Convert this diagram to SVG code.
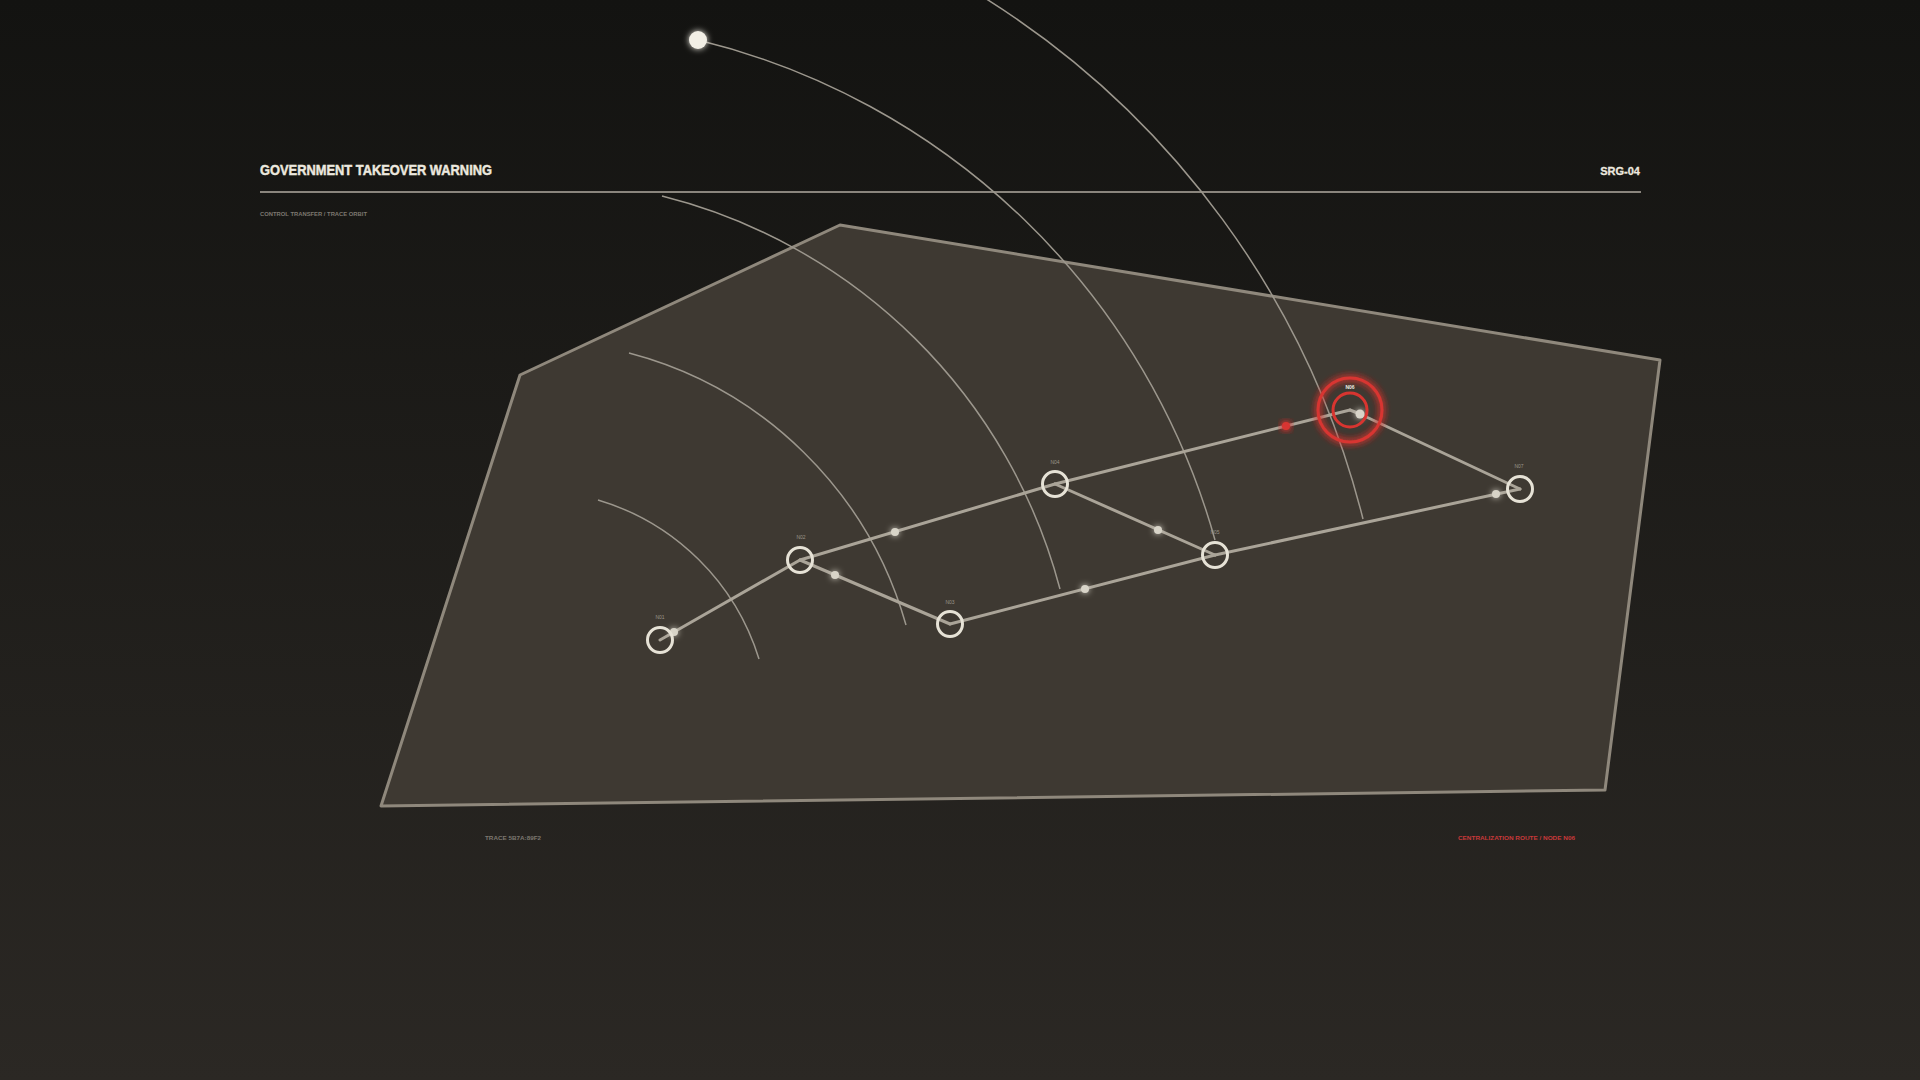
<svg xmlns="http://www.w3.org/2000/svg" width="1920" height="1080" viewBox="0 0 1920 1080">
  <defs>
    <linearGradient id="bg" x1="0" y1="0" x2="0" y2="1">
      <stop offset="0" stop-color="#131311"/>
      <stop offset="1" stop-color="#2b2824"/>
    </linearGradient>
    <filter id="glow" x="-200%" y="-200%" width="500%" height="500%">
      <feGaussianBlur in="SourceGraphic" stdDeviation="3" result="b"/>
      <feMerge><feMergeNode in="b"/><feMergeNode in="SourceGraphic"/></feMerge>
    </filter>
    <filter id="redglow" x="-50%" y="-50%" width="200%" height="200%">
      <feGaussianBlur in="SourceGraphic" stdDeviation="3.5" result="b"/>
      <feMerge><feMergeNode in="b"/><feMergeNode in="b"/><feMergeNode in="SourceGraphic"/></feMerge>
    </filter>
  </defs>
  <style>
    .title{font-family:"Liberation Sans",Arial,sans-serif;font-weight:bold;fill:#ece8df;stroke:#ece8df;stroke-width:0.45}
    .sub{font-family:"Liberation Sans",Arial,sans-serif;font-weight:bold;fill:#7d7870}
    .lbl{font-family:"Liberation Sans",Arial,sans-serif;font-size:5px;fill:#9a948a;text-anchor:middle}
    .orbit{fill:none;stroke:#9c978d;stroke-width:1.5}
    .edge{fill:none;stroke:#aaa498;stroke-width:3;stroke-linecap:round}
    .node{fill:none;stroke:#e6e2d6;stroke-width:3}
    .dot{fill:#d8d4c8}
    .ring{fill:none;stroke:#d83530;stroke-width:3}
  </style>
  <rect x="0" y="0" width="1920" height="1080" fill="url(#bg)"/>

  <g id="header">
    <text class="title" x="260" y="175" font-size="14.5" textLength="232" lengthAdjust="spacingAndGlyphs">GOVERNMENT TAKEOVER WARNING</text>
    <text class="title" x="1640" y="175" font-size="11" text-anchor="end" style="stroke-width:0.3">SRG-04</text>
    <line x1="260" y1="192" x2="1641" y2="192" stroke="#8a857d" stroke-width="2"/>
    <text class="sub" x="260" y="216" font-size="6" textLength="107" lengthAdjust="spacingAndGlyphs">CONTROL TRANSFER / TRACE ORBIT</text>
  </g>

  <g id="plane">
    <polygon points="840,225 1660,360 1605,790 381,806 520,375" fill="#3e3932" stroke="#8f887c" stroke-width="3" stroke-linejoin="round"/>
  </g>

  <g id="orbits">
    <path class="orbit" d="M598,500 A240,240 0 0 1 759,659"/>
    <path class="orbit" d="M629,353 A391,391 0 0 1 906,625"/>
    <path class="orbit" d="M662,196 A550,550 0 0 1 1060,589"/>
    <path class="orbit" d="M698,40 A711,711 0 0 1 1215,540"/>
    <path class="orbit" d="M980,-5 A862,862 0 0 1 1363,519"/>
  </g>

  <g id="connectors">
    <line class="edge" x1="660" y1="640" x2="800" y2="560"/>
    <line class="edge" x1="800" y1="560" x2="1055" y2="484"/>
    <line class="edge" x1="800" y1="560" x2="950" y2="624"/>
    <line class="edge" x1="950" y1="624" x2="1215" y2="555"/>
    <line class="edge" x1="1055" y1="484" x2="1215" y2="555"/>
    <line class="edge" x1="1055" y1="484" x2="1350" y2="410"/>
    <line class="edge" x1="1350" y1="410" x2="1360" y2="414"/>
    <line class="edge" x1="1360" y1="414" x2="1520" y2="489"/>
    <line class="edge" x1="1215" y1="555" x2="1520" y2="489"/>
    <g filter="url(#glow)">
      <circle class="dot" cx="674" cy="632" r="4"/>
      <circle class="dot" cx="895" cy="532" r="4"/>
      <circle class="dot" cx="835" cy="575" r="4"/>
      <circle class="dot" cx="1085" cy="589" r="4"/>
      <circle class="dot" cx="1158" cy="530" r="4"/>
      <circle class="dot" cx="1496" cy="494" r="4"/>
      <circle class="dot" cx="1360" cy="414" r="4.5"/>
    </g>
    <circle cx="1286" cy="426" r="4" fill="#d83530" filter="url(#redglow)"/>
  </g>

  <g id="satellite">
    <circle cx="698" cy="40" r="9" fill="#f2efe6" filter="url(#glow)"/>
  </g>

  <g id="N01">
    <circle class="node" cx="660" cy="640" r="12.5"/>
    <text class="lbl" x="660" y="619">N01</text>
  </g>
  <g id="N02">
    <circle class="node" cx="800" cy="560" r="12.5"/>
    <text class="lbl" x="801" y="539">N02</text>
  </g>
  <g id="N03">
    <circle class="node" cx="950" cy="624" r="12.5"/>
    <text class="lbl" x="950" y="604">N03</text>
  </g>
  <g id="N04">
    <circle class="node" cx="1055" cy="484" r="12.5"/>
    <text class="lbl" x="1055" y="464">N04</text>
  </g>
  <g id="N05">
    <circle class="node" cx="1215" cy="555" r="12.5"/>
    <text class="lbl" x="1215" y="534">N05</text>
  </g>
  <g id="N06">
    <circle class="ring" cx="1350" cy="410" r="32" filter="url(#redglow)"/>
    <circle class="ring" cx="1350" cy="410" r="17"/>
    <text x="1350" y="389" font-family="Liberation Sans, Arial, sans-serif" font-size="5" font-weight="bold" fill="#f0ede4" text-anchor="middle">N06</text>
  </g>
  <g id="N07">
    <circle class="node" cx="1520" cy="489" r="12.5"/>
    <text class="lbl" x="1519" y="468">N07</text>
  </g>

  <g id="footer">
    <text class="sub" x="485" y="840" font-size="6" textLength="56" lengthAdjust="spacingAndGlyphs">TRACE  5B7A:89F2</text>
    <text class="sub" x="1458" y="840" font-size="6" style="fill:#c9393a" textLength="117" lengthAdjust="spacingAndGlyphs">CENTRALIZATION ROUTE / NODE N06</text>
  </g>
</svg>
